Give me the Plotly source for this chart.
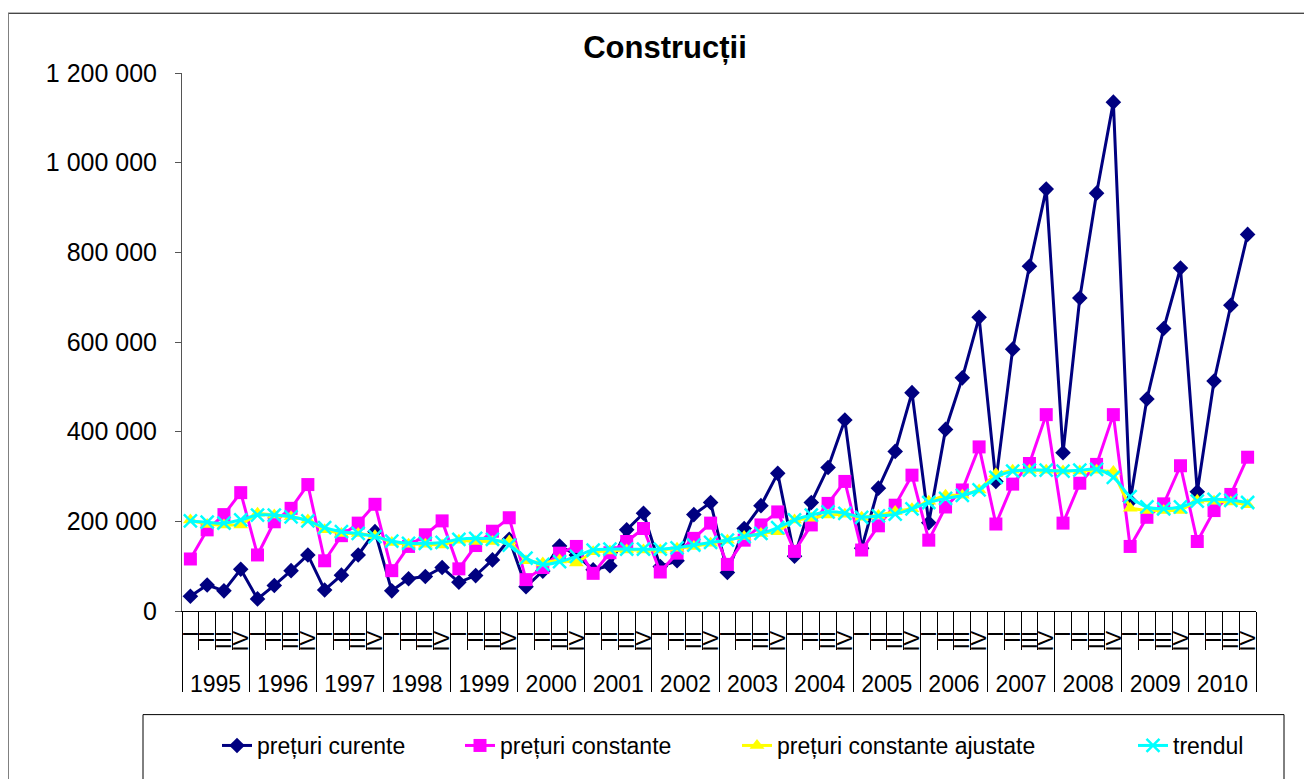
import plotly.graph_objects as go

years = [str(y) for y in range(1995, 2011)]
quarters = ["I", "II", "III", "IV"]

preturi_curente = [
    33000, 58000, 45000, 93000, 27000, 57000, 90000, 125000,
    47000, 80000, 125000, 177000, 45000, 72000, 77000, 97000,
    64000, 79000, 114000, 160000, 54000, 89000, 145000, 125000,
    92000, 101000, 181000, 218000, 99000, 112000, 215000, 242000,
    86000, 184000, 235000, 307000, 122000, 242000, 320000, 426000,
    140000, 274000, 356000, 487000, 197000, 405000, 520000, 655000,
    289000, 584000, 769000, 941000, 353000, 698000, 932000, 1135000,
    245000, 473000, 630000, 765000, 266000, 513000, 682000, 840000,
]
preturi_constante = [
    116000, 181000, 215000, 264000, 125000, 199000, 229000, 282000,
    112000, 168000, 196000, 238000, 90000, 144000, 170000, 201000,
    94000, 146000, 178000, 208000, 70000, 97000, 129000, 144000,
    84000, 130000, 155000, 184000, 87000, 129000, 162000, 196000,
    104000, 158000, 192000, 221000, 133000, 192000, 240000, 289000,
    136000, 190000, 236000, 303000, 158000, 232000, 270000, 366000,
    194000, 283000, 329000, 438000, 196000, 285000, 327000, 438000,
    144000, 209000, 239000, 324000, 155000, 224000, 260000, 343000,
]
preturi_constante_ajustate = [
    203000, 193000, 192000, 192000, 218000, 214000, 210000, 203000,
    181000, 173000, 173000, 168000, 153000, 149000, 149000, 147000,
    158000, 155000, 155000, 156000, 112000, 107000, 114000, 107000,
    132000, 134000, 136000, 136000, 136000, 140000, 144000, 151000,
    158000, 166000, 173000, 177000, 203000, 207000, 214000, 216000,
    209000, 213000, 222000, 228000, 245000, 258000, 258000, 270000,
    306000, 314000, 314000, 314000, 312000, 312000, 314000, 311000,
    229000, 224000, 224000, 224000, 247000, 245000, 243000, 237000,
]
trendul = [
    201000, 198000, 196000, 203000, 214000, 214000, 210000, 201000,
    186000, 177000, 173000, 166000, 156000, 151000, 151000, 153000,
    160000, 162000, 160000, 147000, 118000, 104000, 110000, 122000,
    136000, 138000, 138000, 138000, 138000, 141000, 147000, 153000,
    158000, 166000, 173000, 186000, 203000, 214000, 221000, 218000,
    209000, 212000, 216000, 228000, 242000, 251000, 258000, 270000,
    298000, 312000, 314000, 314000, 312000, 314000, 316000, 298000,
    255000, 232000, 228000, 232000, 245000, 249000, 247000, 242000,
]
y_ticks = [0, 200000, 400000, 600000, 800000, 1000000, 1200000]

nq = len(quarters)
n = len(years) * nq
x_idx = list(range(n))
q_text = quarters * len(years)
year_centers = [k * nq + (nq - 1) / 2 for k in range(len(years))]
q_bounds = [i - 0.5 for i in range(n + 1)]
y_bounds = [k * nq - 0.5 for k in range(len(years) + 1)]

FONT = "Liberation Sans"

# page has an 8px body margin: figure drawn at (8, 8) of the 1312x779 window
OFF = 8
W, H = 1312 - OFF, 779 - OFF
PL, PR, PT, PB = 182, 1256, 73, 613          # plot area in window pixels
L, R, T, B = PL - OFF, W - (PR - OFF), PT - OFF, H - (PB - OFF)
pw, ph = PR - PL, PB - PT


def px(xw):
    return (xw - PL) / pw


def py(yw):
    return (PB - yw) / ph


fig = go.Figure()
fig.add_trace(go.Scatter(
    x=x_idx, y=preturi_curente, name="prețuri curente", mode="lines+markers",
    line=dict(color="#000080", width=3),
    marker=dict(symbol="diamond", size=12, color="#000080"),
    legendwidth=198,
))
fig.add_trace(go.Scatter(
    x=x_idx, y=preturi_constante, name="prețuri constante", mode="lines+markers",
    line=dict(color="#FF00FF", width=3),
    marker=dict(symbol="square", size=13, color="#FF00FF"),
    legendwidth=232,
))
fig.add_trace(go.Scatter(
    x=x_idx, y=preturi_constante_ajustate, name="prețuri constante ajustate",
    mode="lines+markers",
    line=dict(color="#FFFF00", width=3),
    marker=dict(symbol="triangle-up", size=13, color="#FFFF00"),
    legendwidth=351,
))
fig.add_trace(go.Scatter(
    x=x_idx, y=trendul, name="trendul", mode="lines+markers",
    line=dict(color="#00FFFF", width=3, shape="spline"),
    marker=dict(symbol="x-thin", size=13, color="#00FFFF",
                line=dict(color="#00FFFF", width=2.5)),
    legendwidth=80,
))
# carrier for the year level of the category axis
fig.add_trace(go.Scatter(x=[], y=[], xaxis="x2", showlegend=False,
                         hoverinfo="skip"))

shapes = [
    dict(type="line", xref="paper", yref="paper", x0=px(8), x1=px(1330),
         y0=py(13), y1=py(13), line=dict(color="black", width=1)),
    dict(type="line", xref="paper", yref="paper", x0=px(8), x1=px(8),
         y0=py(13), y1=py(800), line=dict(color="#808080", width=2)),
    dict(type="rect", xref="paper", yref="paper", x0=px(143), x1=px(1284),
         y0=py(717), y1=py(800), line=dict(color="black", width=1)),
]

fig.update_layout(
    width=W, height=H,
    template="none",
    paper_bgcolor="white", plot_bgcolor="white",
    margin=dict(l=L, r=R, t=T, b=B, pad=0),
    separators=", ",
    font=dict(family=FONT, size=22, color="black"),
    title=dict(text="<b>Construcții</b>", x=(665 - OFF) / W, xanchor="center",
               y=1 - (47 - OFF) / H, yanchor="middle",
               font=dict(family=FONT, size=31, color="black")),
    showlegend=True,
    legend=dict(orientation="h", x=px(217), xanchor="left", y=py(748),
                yanchor="middle", font=dict(family=FONT, size=23),
                bgcolor="rgba(0,0,0,0)", borderwidth=0),
    xaxis=dict(
        type="linear", range=[-0.5, n - 0.5], autorange=False,
        tickmode="array", tickvals=x_idx, ticktext=q_text, tickangle=-90,
        ticks="", showgrid=False, zeroline=False, automargin=False,
        showline=True, linecolor="black", linewidth=1,
        tickfont=dict(family=FONT, size=22), ticklabelstandoff=10,
        minor=dict(tickmode="array", tickvals=q_bounds, ticks="outside",
                   ticklen=38, tickcolor="black", tickwidth=1, showgrid=False),
    ),
    xaxis2=dict(
        type="linear", range=[-0.5, n - 0.5], autorange=False,
        overlaying="x", anchor="y", side="bottom",
        tickmode="array", tickvals=year_centers, ticktext=years,
        ticks="", showgrid=False, zeroline=False, showline=False,
        automargin=False, tickfont=dict(family=FONT, size=23),
        ticklabelstandoff=57,
        minor=dict(tickmode="array", tickvals=y_bounds, ticks="outside",
                   ticklen=80, tickcolor="black", tickwidth=1, showgrid=False),
    ),
    yaxis=dict(
        range=[0, 1200000], autorange=False, tickmode="array",
        tickvals=y_ticks, tickformat=",d", ticks="outside", ticklen=6,
        tickcolor="#555555", showline=True, linecolor="#555555", linewidth=1,
        showgrid=False, zeroline=False, automargin=False,
        tickfont=dict(family=FONT, size=25), ticklabelstandoff=13,
    ),
    shapes=shapes,
)

fig.write_html("out.html")
